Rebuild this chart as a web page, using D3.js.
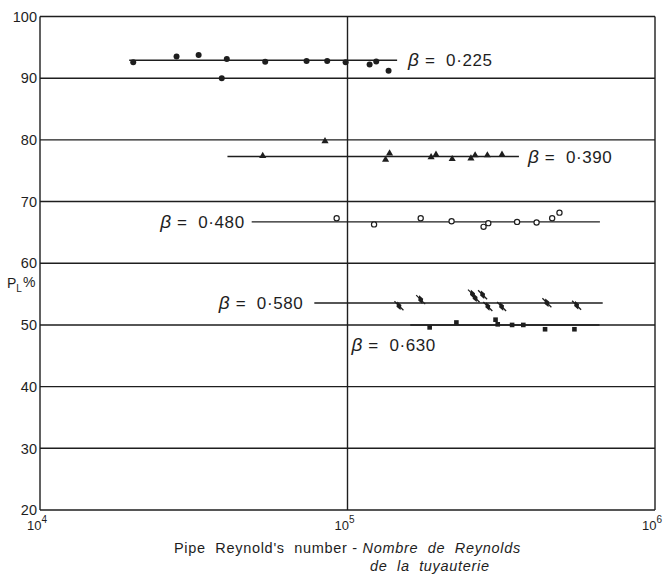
<!DOCTYPE html>
<html>
<head>
<meta charset="utf-8">
<script src="https://cdn.jsdelivr.net/npm/d3@7"></script>
<style>
  html, body { margin: 0; padding: 0; background: #fff; }
  svg { display: block; font-family: "Liberation Sans", Arial, sans-serif; }
  text { white-space: pre; }
</style>
</head>
<body>
<svg id="chart" width="665" height="575"></svg>
<script>
// Loss coefficient P_L (%) against pipe Reynolds number for five orifice ratios β.

// β = 0·225 (filled circles)
const re225 = [2.01e4, 2.78e4, 3.28e4, 4.05e4, 3.90e4, 5.40e4, 7.36e4, 8.59e4, 9.86e4, 1.18e5, 1.24e5, 1.36e5];
const pl225 = [92.6, 93.5, 93.75, 93.1, 90.0, 92.65, 92.8, 92.8, 92.6, 92.2, 92.7, 91.2];

// β = 0·390 (filled triangles)
const re390 = [5.30e4, 8.45e4, 1.33e5, 1.37e5, 1.87e5, 1.94e5, 2.19e5, 2.52e5, 2.60e5, 2.85e5, 3.18e5];
const pl390 = [77.4, 79.8, 76.8, 77.8, 77.2, 77.6, 76.9, 77.0, 77.5, 77.5, 77.6];

// β = 0·480 (open circles)
const re480 = [9.22e4, 1.22e5, 1.73e5, 2.18e5, 2.77e5, 2.87e5, 3.56e5, 4.12e5, 4.63e5, 4.89e5];
const pl480 = [67.3, 66.3, 67.3, 66.8, 65.9, 66.5, 66.7, 66.6, 67.3, 68.2];

// β = 0·580 (slashed diamonds)
const re580 = [1.47e5, 1.73e5, 2.55e5, 2.60e5, 2.75e5, 2.86e5, 3.17e5, 4.45e5, 5.56e5];
const pl580 = [53.1, 54.1, 55.0, 54.4, 54.9, 53.0, 53.0, 53.6, 53.2];

// β = 0·630 (filled squares)
const re630 = [1.85e5, 2.26e5, 3.03e5, 3.08e5, 3.43e5, 3.73e5, 4.39e5, 5.47e5];
const pl630 = [49.6, 50.4, 50.85, 50.1, 50.0, 50.0, 49.3, 49.3];

// Mean line through each set: level and Reynolds-number extent
const betaLabels = ["0·225", "0·390", "0·480", "0·580", "0·630"];
const fitLevel = [92.9, 77.3, 66.7, 53.55, 50.0];
const fitFrom  = [1.95e4, 4.07e4, 4.88e4, 7.80e4, 1.60e5];
const fitTo    = [1.45e5, 3.61e5, 6.62e5, 6.76e5, 6.60e5];

// Axes
const xTicks = [1e4, 1e5, 1e6];
const xExponents = ["4", "5", "6"];
const yTicks = [20, 30, 40, 50, 60, 70, 80, 90, 100];

const ink = "#1e1e1e";
const svg = d3.select("#chart");

const x = d3.scaleLog().domain([1e4, 1e6]).range([40, 655]);
const y = d3.scaleLinear().domain([20, 100]).range([510, 16.5]);

// Horizontal grid at every 10 %
svg.append("g").selectAll("line").data(yTicks).join("line")
  .attr("x1", x(1e4)).attr("x2", x(1e6))
  .attr("y1", d => y(d)).attr("y2", d => y(d))
  .attr("stroke", ink).attr("stroke-width", 1.4);

// Vertical lines at each decade
svg.append("g").selectAll("line").data(xTicks).join("line")
  .attr("x1", d => x(d)).attr("x2", d => x(d))
  .attr("y1", y(100)).attr("y2", y(20))
  .attr("stroke", ink).attr("stroke-width", 1.4);

// Y tick labels
svg.append("g").selectAll("text").data(yTicks).join("text")
  .attr("x", 37).attr("y", d => y(d)).attr("dy", "0.36em")
  .attr("text-anchor", "end").attr("font-size", 14.5).attr("fill", ink)
  .text(d => d);

// X tick labels: 10 with superscript exponent
const xl = svg.append("g").selectAll("text").data(xTicks).join("text")
  .attr("x", d => x(d) - 13).attr("y", 530)
  .attr("font-size", 13).attr("fill", ink);
xl.append("tspan").text("10");
xl.append("tspan").attr("dy", -7).attr("font-size", 10).text((d, i) => xExponents[i]);

// Y axis title P_L %
const yt = svg.append("text").attr("x", 7).attr("y", 288).attr("font-size", 14).attr("fill", ink);
yt.append("tspan").text("P");
yt.append("tspan").attr("dy", 4).attr("font-size", 10).text("L");
yt.append("tspan").attr("dy", -5).attr("dx", 1).text("%");

// X axis title
const xt1 = svg.append("text").attr("x", 174).attr("y", 553)
  .attr("font-size", 14.5).attr("letter-spacing", 0.7).attr("fill", ink);
xt1.append("tspan").text("Pipe  Reynold's  number - ");
xt1.append("tspan").attr("font-style", "italic").text("Nombre  de  Reynolds");
svg.append("text").attr("x", 370).attr("y", 571)
  .attr("font-size", 14.5).attr("letter-spacing", 0.7).attr("fill", ink)
  .attr("font-style", "italic").text("de  la  tuyauterie");

// Mean lines
svg.append("g").selectAll("line").data(fitLevel).join("line")
  .attr("x1", (d, i) => x(fitFrom[i])).attr("x2", (d, i) => x(fitTo[i]))
  .attr("y1", d => y(d)).attr("y2", d => y(d))
  .attr("stroke", ink).attr("stroke-width", 1.4);

// β labels placed at the ends of their lines
const labelPlace = [
  { side: "end",   dx: 11,  dy: 0 },
  { side: "end",   dx: 9,   dy: 0 },
  { side: "start", dx: -7,  dy: 0 },
  { side: "start", dx: -11, dy: 0 },
  { side: "below", dx: 0,   dy: 20 }
];
const bl = svg.append("g").selectAll("text").data(betaLabels).join("text")
  .attr("x", (d, i) => {
    const p = labelPlace[i];
    if (p.side === "end") return x(fitTo[i]) + p.dx;
    if (p.side === "start") return x(fitFrom[i]) + p.dx;
    return x(1.03e5);
  })
  .attr("y", (d, i) => y(fitLevel[i]) + labelPlace[i].dy)
  .attr("dy", "0.36em")
  .attr("text-anchor", (d, i) => labelPlace[i].side === "start" ? "end" : "start")
  .attr("font-size", 17).attr("letter-spacing", 0.6).attr("fill", ink);
bl.append("tspan").attr("font-style", "italic").attr("font-size", 19).text("β");
bl.append("tspan").text(d => " =  " + d);

// Markers
const pts = (xs, ys) => xs.map((v, i) => [v, ys[i]]);

svg.append("g").selectAll("circle").data(pts(re225, pl225)).join("circle")
  .attr("cx", d => x(d[0])).attr("cy", d => y(d[1])).attr("r", 3)
  .attr("fill", ink);

svg.append("g").selectAll("path").data(pts(re390, pl390)).join("path")
  .attr("transform", d => `translate(${x(d[0])},${y(d[1])})`)
  .attr("d", d3.symbol(d3.symbolTriangle, 22))
  .attr("fill", ink);

svg.append("g").selectAll("circle").data(pts(re480, pl480)).join("circle")
  .attr("cx", d => x(d[0])).attr("cy", d => y(d[1])).attr("r", 2.6)
  .attr("fill", "#fff").attr("stroke", ink).attr("stroke-width", 1.2);

const g580 = svg.append("g").selectAll("g").data(pts(re580, pl580)).join("g")
  .attr("transform", d => `translate(${x(d[0])},${y(d[1])})`);
g580.append("path").attr("d", d3.symbol(d3.symbolDiamond, 24)).attr("fill", ink)
  .attr("transform", "rotate(-20)");
g580.append("line").attr("x1", -4.5).attr("y1", -4.5).attr("x2", 4.5).attr("y2", 4.5)
  .attr("stroke", ink).attr("stroke-width", 1.3);

svg.append("g").selectAll("rect").data(pts(re630, pl630)).join("rect")
  .attr("x", d => x(d[0]) - 2.3).attr("y", d => y(d[1]) - 2.3)
  .attr("width", 4.6).attr("height", 4.6).attr("fill", ink);
</script>
</body>
</html>
